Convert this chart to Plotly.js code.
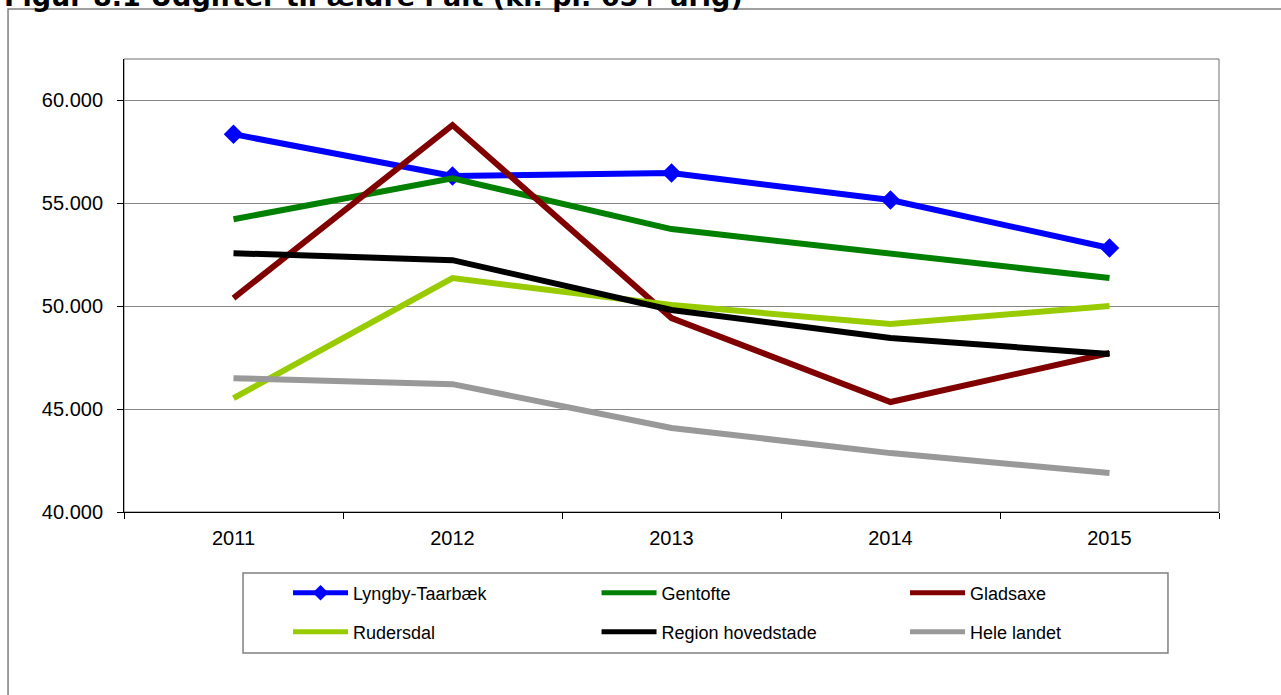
<!DOCTYPE html>
<html>
<head>
<meta charset="utf-8">
<script src="https://cdn.plot.ly/plotly-3.0.1.min.js"></script>
<style>html,body{margin:0;padding:0;background:#fff;}#chart{width:1281px;height:695px;}</style>
</head>
<body>
<div id="chart"></div>
<script>
const years = ['2011', '2012', '2013', '2014', '2015'];
const lyngbyTaarbaek = [58350, 56320, 56460, 55150, 52820];
const gentofte = [54220, 56210, 53740, 52570, 51360];
const gladsaxe = [50390, 58790, 49420, 45340, 47720];
const rudersdal = [45530, 51360, 50050, 49130, 50000];
const regionHovedstade = [52570, 52230, 49810, 48450, 47670];
const heleLandet = [46500, 46210, 44080, 42860, 41890];
const seriesNames = ['Lyngby-Taarbæk', 'Gentofte', 'Gladsaxe', 'Rudersdal', 'Region hovedstade', 'Hele landet'];
const titleText = 'Figur 8.1 Udgifter til ældre i alt (kr. pr. 65+ årig)';

const values = [lyngbyTaarbaek, gentofte, gladsaxe, rudersdal, regionHovedstade, heleLandet];
const colors = ['#0000FF', '#008000', '#800000', '#99CC00', '#000000', '#999999'];
const legendIds = ['legend', 'legend', 'legend', 'legend2', 'legend2', 'legend2'];

const traces = values.map((v, i) => {
  const t = {
    type: 'scatter',
    mode: i === 0 ? 'lines+markers' : 'lines',
    x: years,
    y: v,
    name: seriesNames[i],
    legend: legendIds[i],
    line: {color: colors[i], width: 6}
  };
  if (i === 0) t.marker = {symbol: 'diamond', size: 15, color: colors[i]};
  return t;
});

const legendCommon = {
  orientation: 'h',
  xref: 'paper', yref: 'paper',
  xanchor: 'left', yanchor: 'middle',
  bgcolor: 'rgba(0,0,0,0)',
  borderwidth: 0,
  font: {family: 'Liberation Sans, Arial, sans-serif', size: 18, color: '#000'},
  entrywidth: 238.5,
  entrywidthmode: 'pixels',
  itemwidth: 55,
  itemsizing: 'constant',
  traceorder: 'normal'
};

const layout = {
  width: 1281,
  height: 695,
  paper_bgcolor: '#ffffff',
  plot_bgcolor: '#ffffff',
  margin: {l: 124, r: 62, t: 59, b: 183},
  separators: ',.',
  font: {family: 'Liberation Sans, Arial, sans-serif', size: 20, color: '#000'},
  showlegend: true,
  legend: Object.assign({}, legendCommon, {x: 0.1498, y: -0.1788}),
  legend2: Object.assign({}, legendCommon, {x: 0.1498, y: -0.2649}),
  xaxis: {
    type: 'category',
    range: [-0.5, 4.5],
    showgrid: false,
    showline: true,
    linecolor: '#000',
    linewidth: 1,
    ticks: 'outside',
    tickson: 'boundaries',
    ticklen: 6,
    tickcolor: '#000',
    ticklabelstandoff: 8,
    tickfont: {size: 20, color: '#000'},
    zeroline: false,
    fixedrange: true
  },
  yaxis: {
    range: [40000, 62000],
    tick0: 40000,
    dtick: 5000,
    tickformat: ',d',
    showgrid: true,
    gridcolor: '#868686',
    gridwidth: 1,
    showline: true,
    linecolor: '#000',
    linewidth: 1,
    ticks: 'outside',
    ticklen: 6,
    tickcolor: '#000',
    ticklabelstandoff: 10,
    tickfont: {size: 20, color: '#000'},
    zeroline: false,
    fixedrange: true
  },
  annotations: [
    {text: '<b>' + titleText + '</b>', xref: 'paper', yref: 'paper',
     x: -0.1115, y: 1.1004, xanchor: 'left', yanchor: 'bottom', showarrow: false,
     font: {family: 'DejaVu Sans, sans-serif', size: 27, color: '#000'}}
  ],
  shapes: [
    {type: 'rect', xref: 'paper', yref: 'paper', x0: 0, x1: 1, y0: 0, y1: 1,
     line: {color: '#6e6e6e', width: 1}, layer: 'below'},
    {type: 'rect', xref: 'paper', yref: 'paper', x0: -0.1059, x1: 1.07, y0: -0.43, y1: 1.1104,
     line: {color: '#808080', width: 1.5}, layer: 'below'},
    {type: 'rect', xref: 'paper', yref: 'paper', x0: 0.1087, x1: 0.9534, y0: -0.3113, y1: -0.1347,
     line: {color: '#808080', width: 1.5}, layer: 'below'}
  ]
};

Plotly.newPlot('chart', traces, layout, {displayModeBar: false, staticPlot: true});
</script>
</body>
</html>
